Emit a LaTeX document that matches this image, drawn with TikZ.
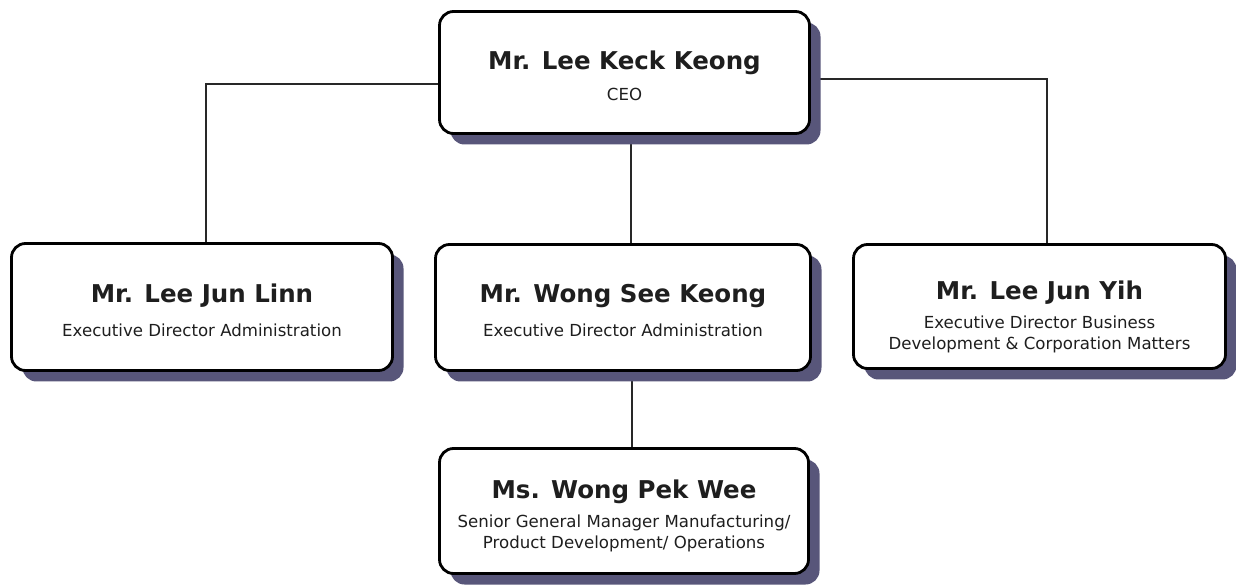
\documentclass[tikz,border=0pt]{standalone}
\usepackage{fontspec}
\setmainfont{DejaVu Sans}
\usetikzlibrary{shadows,backgrounds,calc}
\definecolor{shadowc}{RGB}{88,86,122}
\definecolor{linec}{RGB}{40,40,40}
\definecolor{textc}{RGB}{30,30,30}
\tikzset{
  x=1pt,y=1pt,
  person/.style={draw=black, line width=2.8pt, rounded corners=14pt, fill=white,
    general shadow={fill=shadowc, shadow xshift=11pt, shadow yshift=-11pt}},
  pname/.style={font=\fontsize{24.5}{28}\selectfont\bfseries, text=textc, inner sep=0pt, anchor=base},
  prole/.style={font=\fontsize{16.6}{21}\selectfont, text=textc, inner sep=0pt, align=center, anchor=base},
  conn/.style={draw=linec, line width=1.3pt}
}
\begin{document}
\begin{tikzpicture}
\useasboundingbox (0,0) rectangle (1236,584);
% boxes (y = 584 - pixel y)
\node[person, minimum width=370, minimum height=122] (ceo) at (624.5,511.5) {};
\node[person, minimum width=381, minimum height=127] (linn) at (202,277) {};
\node[person, minimum width=375, minimum height=126] (wsk) at (623,276.5) {};
\node[person, minimum width=372, minimum height=124] (yih) at (1039.5,277.5) {};
\node[person, minimum width=369, minimum height=125] (wpw) at (624,73) {};
% texts
\node[pname] (ceoN) at (624.5,514) {Mr. Lee Keck Keong};
\node[prole] (ceoR) at (624.5,483) {CEO};
\node[pname] (linnN) at (202,281) {Mr. Lee Jun Linn};
\node[prole] (linnR) at (202,247) {Executive Director Administration};
\node[pname] (wskN) at (623,281) {Mr. Wong See Keong};
\node[prole] (wskR) at (623,247) {Executive Director Administration};
\node[pname] (yihN) at (1039.5,284) {Mr. Lee Jun Yih};
\node[prole] (yihR) at (1039.5,234) {Executive Director Business\\Development \& Corporation Matters};
\node[pname] (wpwN) at (624,86) {Ms. Wong Pek Wee};
\node[prole] (wpwR) at (624,36) {Senior General Manager Manufacturing/\\Product Development/ Operations};
% connectors
\begin{scope}[on background layer]
\coordinate (ceoL) at ($(ceo.west)+(0,-11.5)$);
\coordinate (ceoR2) at ($(ceo.east)+(0,-6.5)$);
\coordinate (linnT) at ($(linn.north)+(4,0)$);
\coordinate (yihT) at ($(yih.north)+(7.5,0)$);
\coordinate (ceoB) at ($(ceo.south)+(6.5,0)$);
\coordinate (wskB) at ($(wsk.south)+(9,0)$);
\draw[conn] (ceoL) -| (linnT);
\draw[conn] (ceoR2) -| (yihT);
\draw[conn] (ceoB) -- (ceoB |- wsk.north);
\draw[conn] (wskB) -- (wskB |- wpw.north);
\end{scope}
\end{tikzpicture}
\end{document}
